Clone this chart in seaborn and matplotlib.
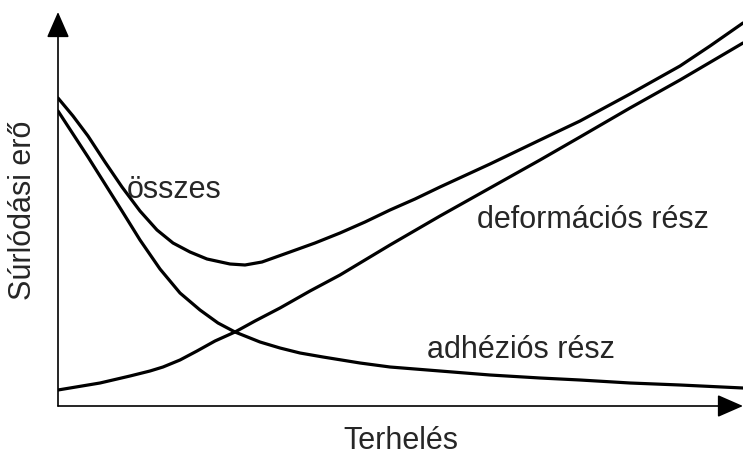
import matplotlib
matplotlib.use("Agg")
import matplotlib.pyplot as plt
import seaborn as sns

# values (load, friction force), arbitrary units
total_x = [0, 15, 30, 47, 64, 82, 99, 115, 132, 149, 172, 187, 204, 232, 257,
           282, 307, 332, 357, 382, 432, 482, 522, 572, 622, 652, 685]
total_y = [308, 290, 270, 244, 219, 195, 176, 163, 154, 147, 142, 141, 144, 154, 163,
           173, 184, 196, 207, 219, 242, 266, 285, 312, 340, 360, 383]

adh_x = [0, 15, 30, 47, 64, 82, 102, 122, 142, 160, 177, 202, 222, 242, 265,
         302, 332, 382, 432, 482, 522, 572, 622, 685]
adh_y = [295, 272, 249, 222, 195, 166, 137, 113, 96, 83, 74, 64, 58, 53, 49,
         43, 39, 35, 31, 28, 26, 23, 21, 18]

def_x = [0, 42, 72, 92, 105, 122, 139, 157, 177, 197, 222, 252, 282, 332, 382,
         432, 482, 522, 572, 622, 685]
def_y = [16, 23, 30, 35, 39, 46, 55, 65, 74, 85, 98, 115, 131, 161, 190,
         218, 246, 269, 298, 326, 363]

labels = ["összes", "deformációs rész", "adhéziós rész"]
xlabel = "Terhelés"
ylabel = "Súrlódási erő"

sns.set_style("white")
plt.rcParams['font.family'] = ['Liberation Sans', 'DejaVu Sans']

W, H = 743, 455
fig = plt.figure(figsize=(W / 100, H / 100), dpi=100)
ax = fig.add_axes([58 / W, 49 / H, 685 / W, 394 / H])

lw = 2.3
for xs, ys in [(total_x, total_y), (adh_x, adh_y), (def_x, def_y)]:
    sns.lineplot(x=xs, y=ys, ax=ax, color="black", lw=lw, sort=False,
                 solid_joinstyle="round")

ax.set_xlim(0, 685)
ax.set_ylim(0, 394)
ax.set_xticks([])
ax.set_yticks([])
for s in ax.spines.values():
    s.set_visible(False)

arrow = dict(arrowstyle="-|>,head_length=1.6,head_width=0.7", mutation_scale=10,
             color="black", lw=1.2, shrinkA=0, shrinkB=0)
ax.annotate("", xy=(1, 0), xytext=(0, 0), xycoords="axes fraction", arrowprops=arrow,
            annotation_clip=False)
ax.annotate("", xy=(0, 1), xytext=(0, 0), xycoords="axes fraction", arrowprops=arrow,
            annotation_clip=False)

fs = 22
ax.text(69, 208, labels[0], fontsize=fs, ha="left", va="baseline")
ax.text(419, 178, labels[1], fontsize=fs, ha="left", va="baseline")
ax.text(369, 48, labels[2], fontsize=fs, ha="left", va="baseline")

fig.text(401 / W, 1 - 449 / H, xlabel, fontsize=fs, ha="center", va="baseline")
fig.text(23 / W, 1 - 210 / H, ylabel, fontsize=fs, ha="center", va="center", rotation=90)

fig.savefig("out.png", dpi=100)
